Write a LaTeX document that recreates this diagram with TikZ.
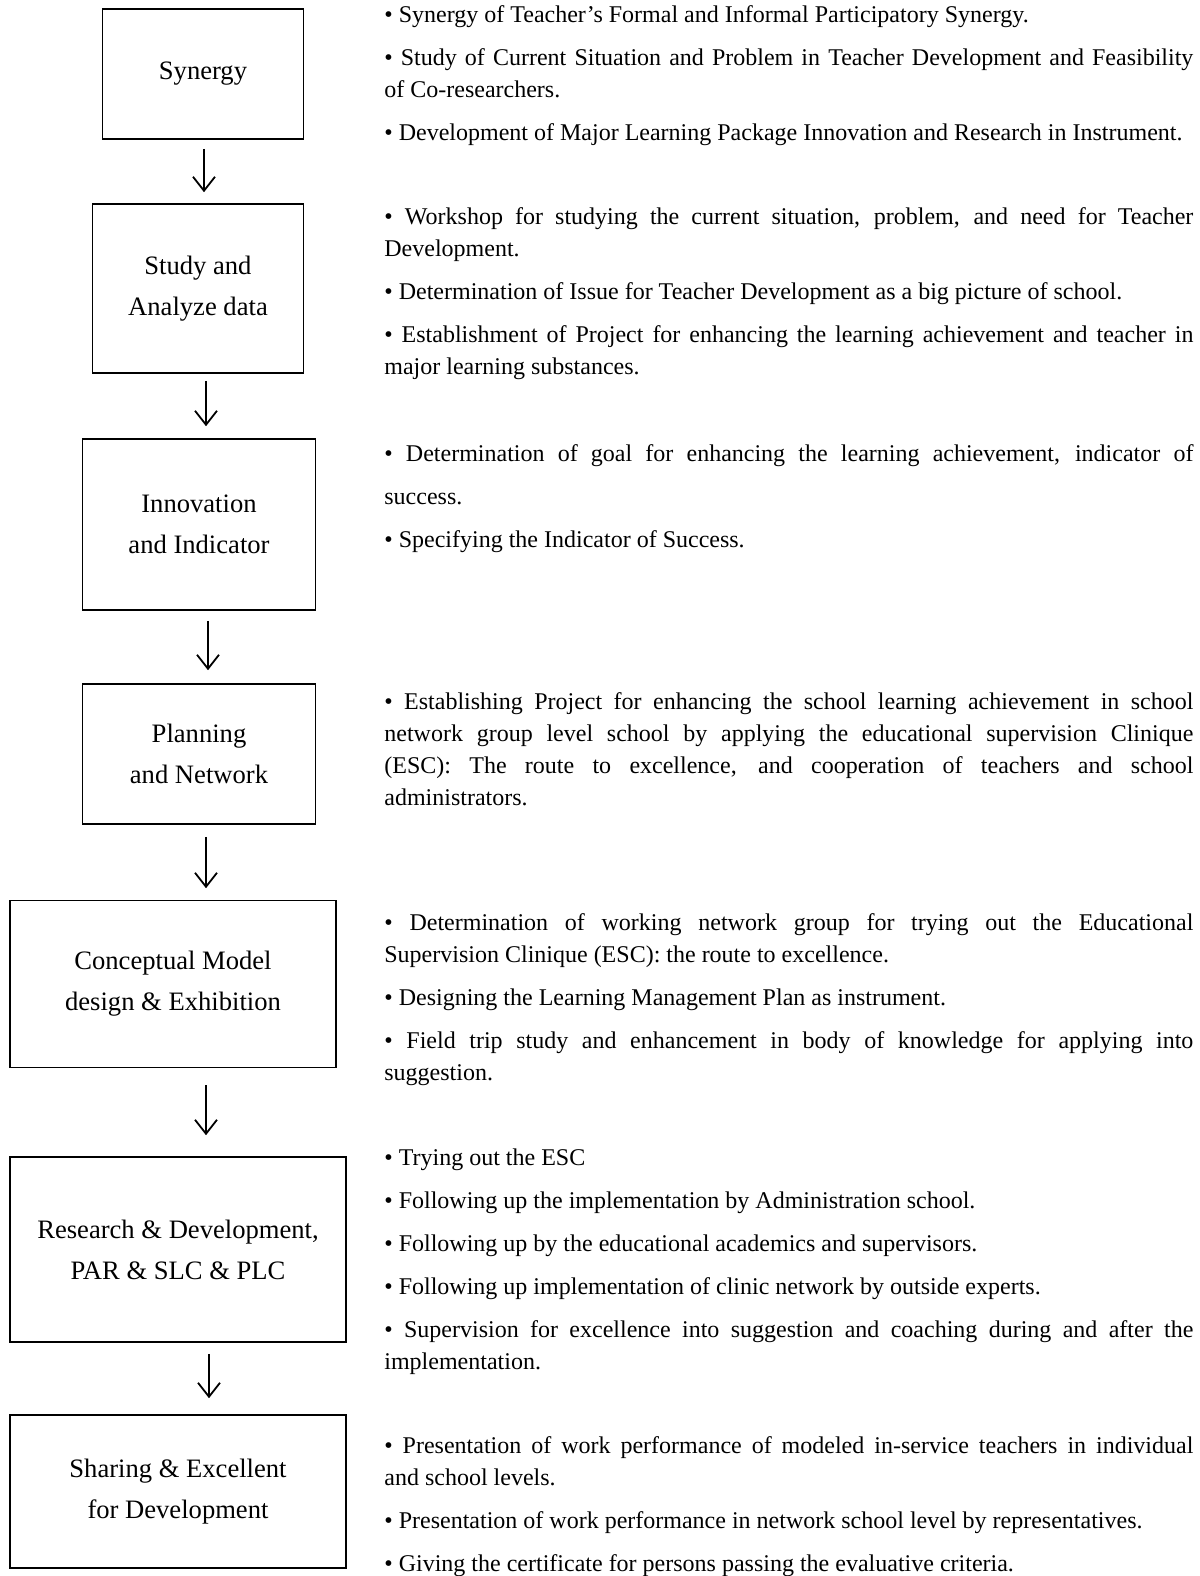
\documentclass[tikz,border=0pt]{standalone}
\usepackage{fontspec}
\setmainfont{Liberation Serif}
\usetikzlibrary{positioning, arrows.meta}
\setlength{\parindent}{0pt}
\setlength{\parskip}{0pt}
\hyphenpenalty=10000
\newcommand{\itemgap}{\par\vskip 5.5pt}

\begin{document}
\begin{tikzpicture}[x=0.5pt, y=-0.5pt,
    stage/.style={draw, line width=0.8pt, inner sep=0pt, align=center, font=\fontsize{13.3}{20.6}\selectfont},
    notes/.style={anchor=north west, inner sep=0pt, text width=404.5pt, align=justify, font=\fontsize{12}{16}\selectfont},
    flow/.style={-{Straight Barb[length=7pt, width=11pt]}, line width=0.9pt}]
    % Fix the page size
    \useasboundingbox (0,0) rectangle (1200,1576);

    % Draw the stages
    \node[stage, minimum width=100.5pt, minimum height=65pt] (syn) at (203,74) {Synergy};
    \node[stage, minimum width=105.5pt, minimum height=84.5pt] (stu) at (198,288.5) {Study and\\Analyze data};
    \node[stage, minimum width=116.5pt, minimum height=85.5pt] (inn) at (199,524.5) {Innovation\\and Indicator};
    \node[stage, minimum width=116.5pt, minimum height=70pt] (pla) at (199,754) {Planning\\and Network};
    \node[stage, minimum width=163pt, minimum height=83.5pt] (con) at (173,984) {Conceptual Model\\design \& Exhibition};
    \node[stage, minimum width=168pt, minimum height=92.5pt] (res) at (178,1249.5) {Research \& Development,\\PAR \& SLC \& PLC};
    \node[stage, minimum width=168pt, minimum height=76.5pt] (sha) at (178,1491.5) {Sharing \& Excellent\\for Development};

    % Arrow lines
    \coordinate (a1) at (204,0);
    \coordinate (a2) at (206,0);
    \coordinate (a3) at (208,0);
    \coordinate (a4) at (206,0);
    \coordinate (a5) at (206,0);
    \coordinate (a6) at (209,0);
    \draw[flow, shorten <=4.5pt, shorten >=5.5pt] (syn.south -| a1) -- (stu.north -| a1);
    \draw[flow, shorten <=3.5pt, shorten >=6pt] (stu.south -| a2) -- (inn.north -| a2);
    \draw[flow, shorten <=5pt, shorten >=6.5pt] (inn.south -| a3) -- (pla.north -| a3);
    \draw[flow, shorten <=6pt, shorten >=5.75pt] (pla.south -| a4) -- (con.north -| a4);
    \draw[flow, shorten <=8.5pt, shorten >=10.5pt] (con.south -| a5) -- (res.north -| a5);
    \draw[flow, shorten <=5.5pt, shorten >=8pt] (res.south -| a6) -- (sha.north -| a6);

    % Notes beside each stage
    \node[notes] (synnotes) at (384,0) {\strut • Synergy of Teacher’s Formal and Informal Participatory Synergy.\itemgap
        • Study of Current Situation and Problem in Teacher Development and Feasibility\linebreak of Co-researchers.\itemgap
        • Development of Major Learning Package Innovation and Research in Instrument.};
    \node[notes] (stunotes) at (384,202) {\strut • Workshop for studying the current situation, problem, and need for Teacher\linebreak Development.\itemgap
        • Determination of Issue for Teacher Development as a big picture of school.\itemgap
        • Establishment of Project for enhancing the learning achievement and teacher in\linebreak major learning substances.};
    \node[notes] (innnotes) at (384,439) {\strut • Determination of goal for enhancing the learning achievement, indicator of\vadjust{\vskip 5.25pt}\linebreak success.\itemgap
        • Specifying the Indicator of Success.};
    \node[notes] (planotes) at (384,686.5) {\strut • Establishing Project for enhancing the school learning achievement in school\linebreak network group level school by applying the educational supervision Clinique\linebreak (ESC): The route to excellence, and cooperation of teachers and school\linebreak administrators.};
    \node[notes] (connotes) at (384,907.5) {\strut • Determination of working network group for trying out the Educational\linebreak Supervision Clinique (ESC): the route to excellence.\itemgap
        • Designing the Learning Management Plan as instrument.\itemgap
        • Field trip study and enhancement in body of knowledge for applying into\linebreak suggestion.};
    \node[notes] (resnotes) at (384,1143) {\strut • Trying out the ESC\itemgap
        • Following up the implementation by Administration school.\itemgap
        • Following up by the educational academics and supervisors.\itemgap
        • Following up implementation of clinic network by outside experts.\itemgap
        • Supervision for excellence into suggestion and coaching during and after the\linebreak implementation.};
    \node[notes] (shanotes) at (384,1431) {\strut • Presentation of work performance of modeled in-service teachers in individual\linebreak and school levels.\itemgap
        • Presentation of work performance in network school level by representatives.\itemgap
        • Giving the certificate for persons passing the evaluative criteria.};
\end{tikzpicture}
\end{document}
